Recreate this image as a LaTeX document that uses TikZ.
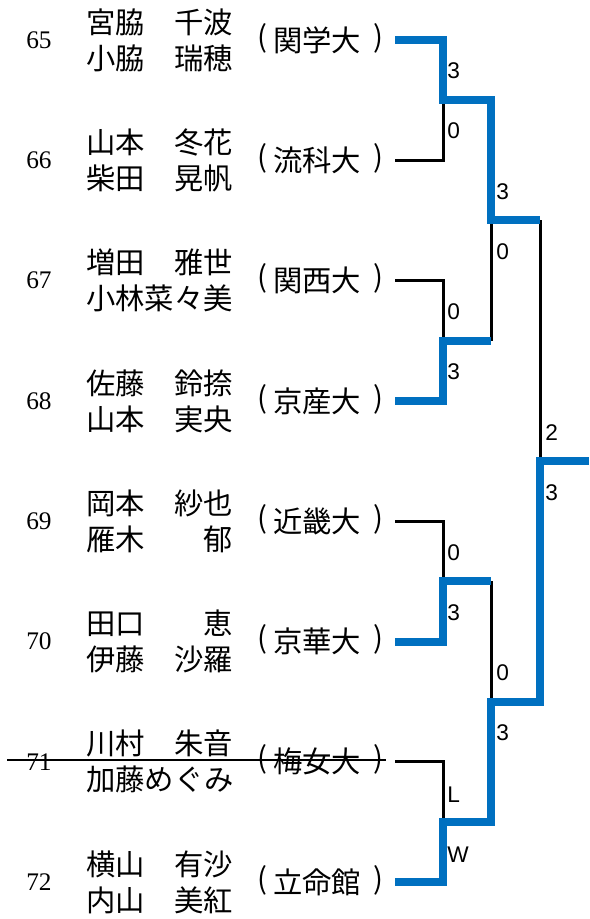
\documentclass[tikz,border=0pt]{standalone}
\usepackage{fontspec}
\newfontfamily\jp{Noto Sans CJK JP}
\newfontfamily\scorefont{Liberation Sans}
\newfontfamily\numfont{Liberation Serif}
\definecolor{winblue}{HTML}{0070C0}
\tikzset{
  numtxt/.style={font=\numfont\fontsize{19}{21}\selectfont, inner sep=0pt, anchor=center},
  nametxt/.style={font=\jp\fontsize{22}{24}\selectfont, inner sep=0pt, anchor=west},
  unitxt/.style={font=\jp\fontsize{22}{24}\selectfont, inner sep=0pt, anchor=center},
  score/.style={font=\scorefont\fontsize{17}{18}\selectfont, inner sep=0pt, anchor=west},
  loseline/.style={draw=black, line width=2.25pt, line join=miter},
  winline/.style={draw=winblue, line width=6pt, line join=miter},
  strike/.style={draw=black, line width=1pt}
}
\begin{document}
\begin{tikzpicture}[x=0.75pt,y=-0.75pt]
\useasboundingbox (0,0) rectangle (589,919);
\foreach \n/\a/\b/\u [count=\k from 0] in {
  65/宮脇　千波/小脇　瑞穂/関学大,
  66/山本　冬花/柴田　晃帆/流科大,
  67/増田　雅世/小林菜々美/関西大,
  68/佐藤　鈴捺/山本　実央/京産大,
  69/岡本　紗也/雁木　　郁/近畿大,
  70/田口　　恵/伊藤　沙羅/京華大,
  71/川村　朱音/加藤めぐみ/梅女大,
  72/横山　有沙/内山　美紅/立命館}{
  \pgfmathsetmacro\c{40+120.3*\k}
  \node[numtxt] (num\n) at (39,\c) {\n};
  \node[nametxt] (na\n) at (86,\c-18) {\a};
  \node[nametxt] (nb\n) at (86,\c+18) {\b};
  \node[unitxt] (pl\n) at (262,\c-2) {(};
  \node[unitxt] (u\n) at (317,\c) {\u};
  \node[unitxt] (pr\n) at (378,\c-2) {)};
  \coordinate (s\n) at (395,\c);
}
% junctions
\coordinate (r1a) at (443,100.2);
\coordinate (r1b) at (443,340.8);
\coordinate (r1c) at (443,581.3);
\coordinate (r1d) at (443,822);
\coordinate (r2a) at (491,220.5);
\coordinate (r2b) at (491,701.6);
\coordinate (fin) at (540,461);
\coordinate (fend) at (589,461);
% losers (black)
\draw[loseline] (s66) -- (s66 -| r1a) -- (r1a);
\draw[loseline] (s67) -- (s67 -| r1b) -- (r1b);
\draw[loseline] (s69) -- (s69 -| r1c) -- (r1c);
\draw[loseline] (s71) -- (s71 -| r1d) -- (r1d);
\draw[loseline] (r1b -| r2a) -- (r2a);
\draw[loseline] (r1c -| r2b) -- (r2b);
\draw[loseline] (r2a -| fin) -- (fin);
% winners (blue)
\draw[winline] (s65) -- (s65 -| r1a) -- (r1a) -- (r1a -| r2a) -- (r2a) -- (r2a -| fin);
\draw[winline] (s68) -- (s68 -| r1b) -- (r1b) -- (r1b -| r2a);
\draw[winline] (s70) -- (s70 -| r1c) -- (r1c) -- (r1c -| r2b);
\draw[winline] (s72) -- (s72 -| r1d) -- (r1d) -- (r1d -| r2b) -- (r2b) -- (r2b -| fin) -- (fin) -- (fend);
% scores
\node[score] (sc1) at (447,71) {3};
\node[score] (sc2) at (447,131) {0};
\node[score] (sc3) at (496,192) {3};
\node[score] (sc4) at (496,252) {0};
\node[score] (sc5) at (447,312) {0};
\node[score] (sc6) at (447,372) {3};
\node[score] (sc7) at (545,433) {2};
\node[score] (sc8) at (545,493) {3};
\node[score] (sc9) at (447,553) {0};
\node[score] (sc10) at (447,613) {3};
\node[score] (sc11) at (496,673) {0};
\node[score] (sc12) at (496,733) {3};
\node[score] (sc13) at (447,795) {L};
\node[score] (sc14) at (447,855) {W};
% strike-through of entry 71
\coordinate (st1) at (7,760);
\coordinate (st2) at (386,760);
\draw[strike] (st1) -- (st2);
\end{tikzpicture}
\end{document}
